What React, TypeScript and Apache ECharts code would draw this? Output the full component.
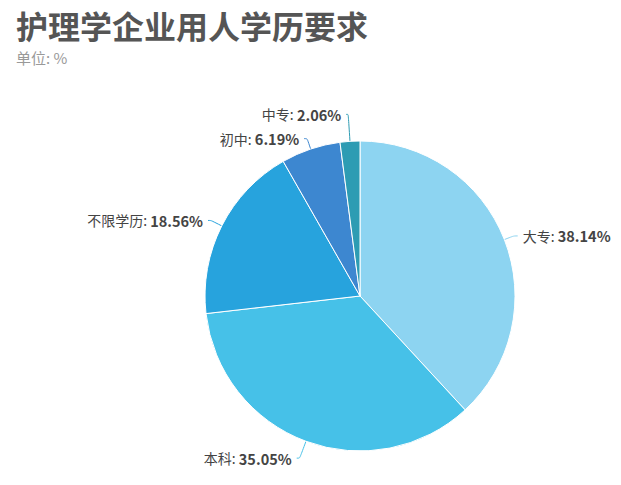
import { useEffect, useRef } from "react";
import * as echarts from "echarts";

const categories = ["大专", "本科", "不限学历", "初中", "中专"];
const values = [38.14, 35.05, 18.56, 6.19, 2.06];
const colors = ["#8dd4f1", "#46c1e8", "#27a3dd", "#3d87d0", "#2d9cb3"];
// label line lengths per slice (first segment, second segment)
const lineLengths = [10, 18, 12, 11, 27];
const lineLengths2 = [4, 3, 3, 3, 2];

export default function App() {
  const chartRef = useRef<HTMLDivElement>(null);

  useEffect(() => {
    if (!chartRef.current) return;
    const chart = echarts.init(chartRef.current, undefined, { renderer: "svg" });

    const pieData = categories.map((name, i) => ({
      name,
      value: values[i],
      itemStyle: { color: colors[i] },
      labelLine: {
        length: lineLengths[i],
        length2: lineLengths2[i],
        lineStyle: { color: colors[i] },
      },
    }));

    chart.setOption({
      animation: false,
      backgroundColor: "#ffffff",
      title: {
        text: "护理学企业用人学历要求",
        subtext: "单位: %",
        left: 11,
        top: 4,
        itemGap: 9,
        textStyle: {
          fontSize: 32,
          fontWeight: "bold",
          color: "#555555",
          fontFamily: "'Noto Sans CJK SC', sans-serif",
        },
        subtextStyle: {
          fontSize: 15,
          color: "#999999",
          fontFamily: "'Noto Sans CJK SC', sans-serif",
        },
      },
      series: [
        {
          type: "pie",
          center: [360, 296],
          radius: [0, 155],
          startAngle: 90,
          clockwise: true,
          itemStyle: { borderColor: "#ffffff", borderWidth: 1 },
          label: {
            show: true,
            overflow: "none",
            lineHeight: 15,
            formatter: (p: any) => `{n|${p.name}: }{v|${p.value.toFixed(2)}%}`,
            rich: {
              n: {
                fontSize: 14,
                lineHeight: 15,
                color: "#444444",
                fontFamily: "'Noto Sans CJK SC', sans-serif",
              },
              v: {
                fontSize: 14.5,
                lineHeight: 15,
                fontWeight: "bold",
                color: "#444444",
                fontFamily: "'Noto Sans CJK SC', sans-serif",
              },
            },
          },
          labelLine: { show: true, smooth: 0.3 },
          data: pieData,
        },
      ],
    });

    return () => chart.dispose();
  }, []);

  return (
    <div
      ref={chartRef}
      style={{ position: "fixed", left: 0, top: 0, width: 621, height: 485 }}
    />
  );
}
